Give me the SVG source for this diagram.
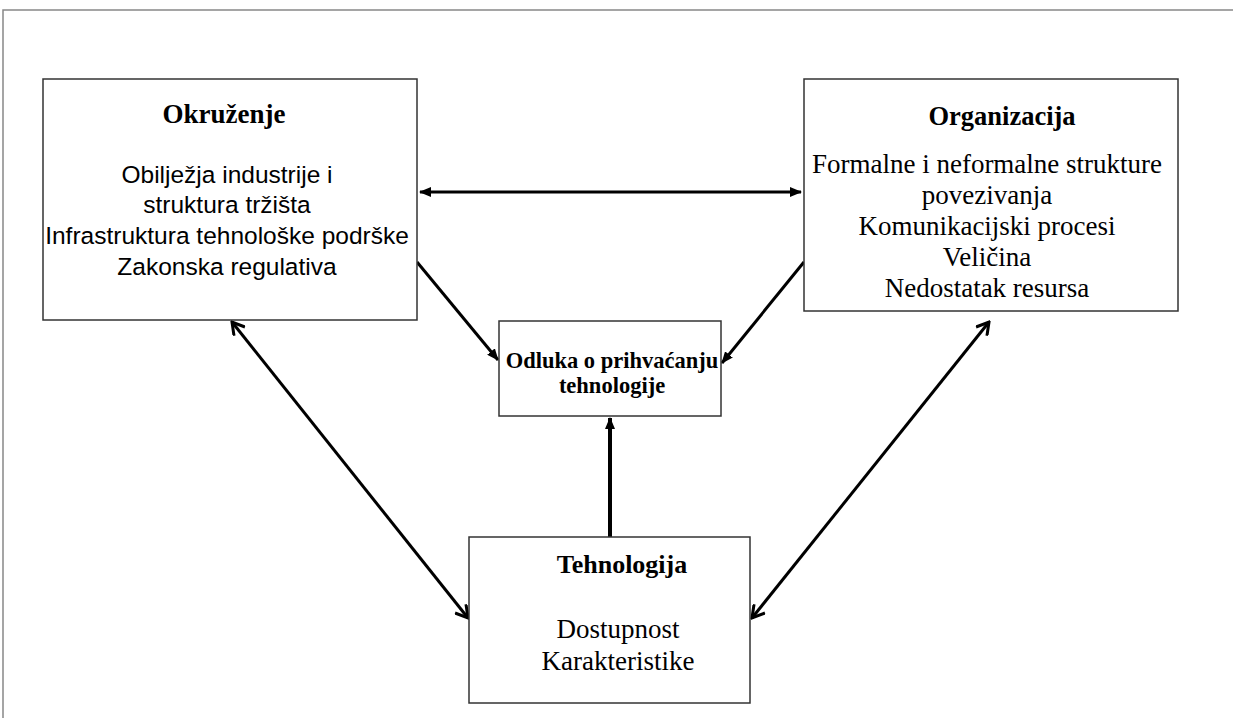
<svg xmlns="http://www.w3.org/2000/svg" width="1233" height="718" viewBox="0 0 1233 718">
<style>
.box{fill:#fff;stroke:#333;stroke-width:1.5}
.t{font-family:"Liberation Serif","Times New Roman",serif;fill:#000;text-anchor:middle}
.b{font-weight:bold}
.s{font-family:"Liberation Sans",Arial,sans-serif;fill:#000;text-anchor:middle;font-size:24.5px}
.c{stroke:#000;fill:none;stroke-width:3}
</style>
<defs>
<marker id="fa" markerUnits="userSpaceOnUse" viewBox="0 0 12 10" refX="11" refY="5" markerWidth="12" markerHeight="10" orient="auto-start-reverse">
<path d="M0,0 L12,5 L0,10 z" fill="#000"/>
</marker>
<marker id="oa" markerUnits="userSpaceOnUse" viewBox="0 0 16 16" refX="14" refY="8" markerWidth="16" markerHeight="16" orient="auto-start-reverse">
<path d="M2,1 L14,8 L2,15" fill="none" stroke="#000" stroke-width="3"/>
</marker>
</defs>
<rect width="1233" height="718" fill="#fff"/>
<path d="M3,718 L3,10 L1233,10" fill="none" stroke="#888" stroke-width="1.5"/>
<g id="connectors">
<line class="c" x1="420" y1="192" x2="801" y2="192" marker-start="url(#fa)" marker-end="url(#fa)"/>
<line class="c" x1="417" y1="262" x2="498" y2="360" marker-end="url(#fa)"/>
<line class="c" x1="804" y1="262" x2="722" y2="363" marker-end="url(#fa)"/>
<line class="c" style="stroke-width:4" x1="610" y1="537" x2="610" y2="418" marker-end="url(#fa)"/>
<line class="c" x1="232" y1="322" x2="468" y2="618" marker-start="url(#oa)" marker-end="url(#oa)"/>
<line class="c" x1="989" y1="322" x2="752" y2="618" marker-start="url(#oa)" marker-end="url(#oa)"/>
</g>
<g id="okruzenje">
<rect class="box" x="43" y="79" width="374" height="241"/>
<text class="t b" x="224" y="123" font-size="27">Okruženje</text>
<text class="s" x="227" y="183">Obilježja industrije i</text>
<text class="s" x="227" y="213">struktura tržišta</text>
<text class="s" x="227" y="244">Infrastruktura tehnološke podrške</text>
<text class="s" x="227" y="275">Zakonska regulativa</text>
</g>
<g id="organizacija">
<rect class="box" x="804" y="79" width="374" height="232"/>
<text class="t b" x="1002" y="125" font-size="26.5">Organizacija</text>
<text class="t" x="987" y="173" font-size="27">Formalne i neformalne strukture</text>
<text class="t" x="987" y="204" font-size="27">povezivanja</text>
<text class="t" x="987" y="235" font-size="27">Komunikacijski procesi</text>
<text class="t" x="987" y="266" font-size="27">Veličina</text>
<text class="t" x="987" y="297" font-size="27">Nedostatak resursa</text>
</g>
<g id="odluka">
<rect class="box" x="499" y="321" width="222" height="95"/>
<text class="t b" x="612" y="368" font-size="22.5">Odluka o prihvaćanju</text>
<text class="t b" x="612" y="393" font-size="22.5">tehnologije</text>
</g>
<g id="tehnologija">
<rect class="box" x="469" y="537" width="281" height="166"/>
<text class="t b" x="622" y="573" font-size="26">Tehnologija</text>
<text class="t" x="618" y="638" font-size="27">Dostupnost</text>
<text class="t" x="618" y="670" font-size="27">Karakteristike</text>
</g>
</svg>
